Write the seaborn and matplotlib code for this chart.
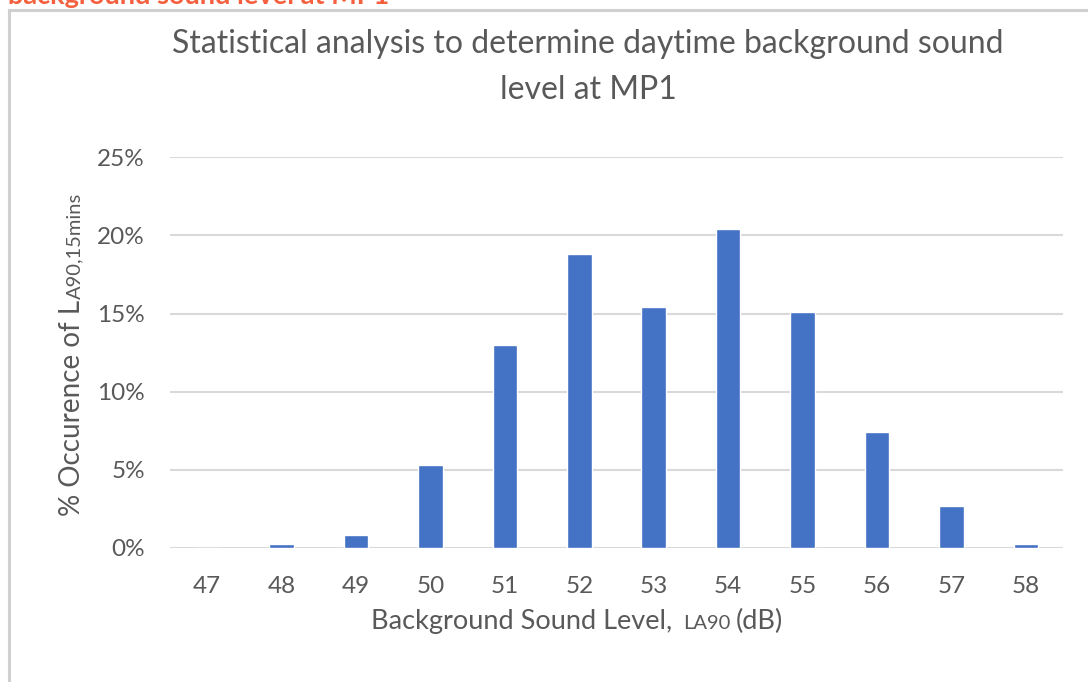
import matplotlib
matplotlib.use("Agg")
import matplotlib.pyplot as plt
import matplotlib.ticker as mticker
from matplotlib.transforms import IdentityTransform
from matplotlib.patches import Rectangle
import seaborn as sns
import pandas as pd

# ---- data ----
levels = ["47", "48", "49", "50", "51", "52", "53", "54", "55", "56", "57", "58"]
occurrence = [0.0, 0.0026, 0.0083, 0.053, 0.130, 0.188, 0.154, 0.204, 0.151, 0.074, 0.027, 0.0026]
y_ticks = [0.0, 0.05, 0.10, 0.15, 0.20, 0.25]

title_lines = ["Statistical analysis to determine daytime background sound", "level at MP1"]
caption_text = "background sound level at MP1"

W, H = 1088, 682
TXT = "#595959"
FONT = "Lato"

sns.set_theme(style="white")
plt.rcParams["font.family"] = [FONT, "DejaVu Sans"]

fig = plt.figure(figsize=(W / 100, H / 100), dpi=100)
fig.patch.set_facecolor("white")

ax_left, ax_right, ax_top, ax_bottom = 170, 1063, 157.3, 548
ax = fig.add_axes([ax_left / W, (H - ax_bottom) / H, (ax_right - ax_left) / W, (ax_bottom - ax_top) / H])

df = pd.DataFrame({"level": levels, "occ": occurrence})
sns.barplot(data=df, x="level", y="occ", color="#4472C4", saturation=1, width=0.33, ax=ax, zorder=3)

ax.set_ylim(0, 0.25)
ax.set_xlim(-0.5, len(levels) - 0.5)
ax.set_yticks(y_ticks)
ax.yaxis.set_major_formatter(mticker.FuncFormatter(lambda v, p: f"{v*100:.0f}%"))
ax.yaxis.grid(True, color="#D9D9D9", lw=1.5, zorder=0)
ax.xaxis.grid(False)
for s in ax.spines.values():
    s.set_visible(False)
ax.tick_params(axis="both", length=0, colors=TXT, labelsize=17.5)
ax.tick_params(axis="y", pad=18)
ax.tick_params(axis="x", pad=20)
ax.set_xlabel("")
ax.set_ylabel("")

# chart border (outer frame, partly cut by image edges)
fig.add_artist(Rectangle((8.5 / W, -0.5), 2, (H - 9.5) / H + 0.5, transform=fig.transFigure, fill=False,
                         edgecolor="#D0D0D0", lw=2.2))

# cut caption at top (only its lower part shows, as in the reference)
fig.text(8 / W, (H - 4) / H, caption_text, color="#F4603E", fontsize=19.5, fontweight="bold",
         ha="left", va="baseline")

# title
fig.text(588 / W, (H - 53) / H, title_lines[0], color=TXT, fontsize=23, ha="center", va="baseline")
fig.text(588 / W, (H - 99) / H, title_lines[1], color=TXT, fontsize=23, ha="center", va="baseline")

renderer = fig.canvas.get_renderer()


def piece_width(s, fs):
    t = fig.text(0, 0, s, fontsize=fs)
    w = t.get_window_extent(renderer).width
    t.remove()
    return w


def rich_text(pieces, cx, base, rotation=0):
    """pieces: (text, size, gap_after_px). cx: centre along text direction, base: baseline position (px)."""
    widths = [piece_width(s, fs) for s, fs, g in pieces]
    total = sum(widths) + sum(g for _, _, g in pieces[:-1])
    pos = cx - total / 2
    for (s, fs, g), w in zip(pieces, widths):
        if rotation == 0:
            fig.text(pos, base, s, fontsize=fs, color=TXT, transform=IdentityTransform(),
                     ha="left", va="baseline", rotation=0, rotation_mode="anchor")
        else:
            fig.text(base, pos, s, fontsize=fs, color=TXT, transform=IdentityTransform(),
                     ha="left", va="baseline", rotation=90, rotation_mode="anchor")
        pos += w + g


# x label
rich_text([("Background Sound Level,", 19.5, 11), ("LA90", 14.5, 6), ("(dB)", 19.5, 0)], 577, H - 629)
# y label
rich_text([("% Occurence of L", 20, 1), ("A90,15mins", 14.5, 0)], H - 354, 80, rotation=90)

fig.savefig("out.png", dpi=100, facecolor="white")
